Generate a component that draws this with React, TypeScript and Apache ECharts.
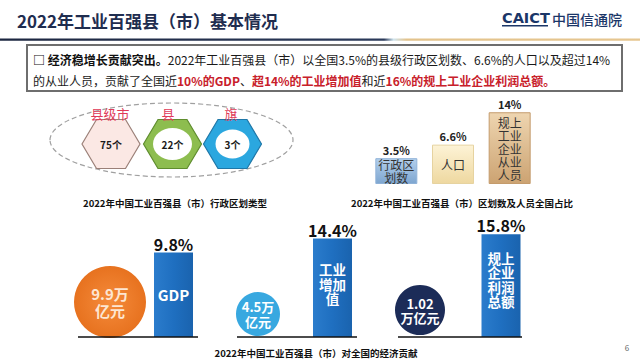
import React, { useEffect, useRef } from 'react';
import * as echarts from 'echarts';

const FONT = '"Noto Sans CJK SC", "Noto Sans", sans-serif';

// ---------- data ----------
const pageTitle = '2022年工业百强县（市）基本情况';
const regionTypes = ['县级市', '县', '旗'];
const regionCounts = [75, 22, 3];
const shareNames = ['行政区\n划数', '人口', '规上\n工业\n企业\n从业\n人员'];
const shareValues = [3.5, 6.6, 14];
const contribNames = ['GDP', '工业\n增加\n值', '规上\n企业\n利润\n总额'];
const contribShares = [9.8, 14.4, 15.8];
const contribAmounts = ['9.9万\n亿元', '4.5万\n亿元', '1.02\n万亿元'];
const captions = [
  '2022年中国工业百强县（市）行政区划类型',
  '2022年中国工业百强县（市）区划数及人员全国占比',
  '2022年中国工业百强县（市）对全国的经济贡献',
];

// ---------- helpers ----------
const vgrad = (a: string, b: string) =>
  new echarts.graphic.LinearGradient(0, 0, 0, 1, [
    { offset: 0, color: a },
    { offset: 1, color: b },
  ]);

function txt(text: string, x: number, y: number, font: string, fill: string, align = 'left', extra: any = {}) {
  return {
    type: 'text',
    x,
    y,
    z: 10,
    style: {
      text,
      font,
      fill,
      textAlign: align,
      textVerticalAlign: 'middle',
      align,
      verticalAlign: 'middle',
      ...extra,
    },
  };
}

function hexPoints(cx: number, cy: number, w = 29, h = 24.5) {
  return [
    [cx - w, cy],
    [cx - w / 2, cy - h],
    [cx + w / 2, cy - h],
    [cx + w, cy],
    [cx + w / 2, cy + h],
    [cx - w / 2, cy + h],
  ];
}

function buildOption() {
  const graphics: any[] = [];

  // header
  graphics.push(txt(pageTitle, 17, 20, `bold 17px ${FONT}`, '#1f2d4f'));
  graphics.push(txt('CAICT', 502, 18, 'bold 14.5px "DejaVu Sans", sans-serif', '#1b3668'));
  graphics.push({ type: 'rect', shape: { x: 502, y: 25, width: 46, height: 1.6 }, style: { fill: '#1b3668' } });
  graphics.push(txt('中国信通院', 552, 19, `500 14px ${FONT}`, '#1b3668'));
  graphics.push({
    type: 'rect',
    shape: { x: 0, y: 38.5, width: 640, height: 2.2 },
    style: {
      fill: new echarts.graphic.LinearGradient(0, 0, 1, 0, [
        { offset: 0, color: '#1c2640' },
        { offset: 0.6, color: '#2b3a5a' },
        { offset: 0.615, color: '#cfe4ee' },
        { offset: 0.635, color: '#e3c38c' },
        { offset: 1, color: '#e6c690' },
      ]),
    },
  });

  // summary box
  graphics.push({
    type: 'rect',
    shape: { x: 27, y: 45, width: 595, height: 46 },
    style: { fill: '#fff', stroke: '#6e6e6e', lineWidth: 2 },
  });
  const rich = {
    b: { font: `bold 12px ${FONT}`, fill: '#111' },
    n: { font: `12px ${FONT}`, fill: '#1a1a1a' },
    r: { font: `bold 12px ${FONT}`, fill: '#c8202a' },
  };
  graphics.push({
    type: 'text',
    x: 33,
    y: 59,
    z: 10,
    style: {
      text: '{b|□ 经济稳增长贡献突出。}{n|2022年工业百强县（市）以全国3.5%的县级行政区划数、6.6%的人口以及超过14%}',
      rich,
      verticalAlign: 'middle',
      textVerticalAlign: 'middle',
    },
  });
  graphics.push({
    type: 'text',
    x: 33,
    y: 80,
    z: 10,
    style: {
      text: '{n|的从业人员，贡献了全国近}{r|10%的GDP}{n|、}{r|超14%的工业增加值}{n|和近}{r|16%的规上工业企业利润总额。}',
      rich,
      verticalAlign: 'middle',
      textVerticalAlign: 'middle',
    },
  });

  // middle-left: region types
  graphics.push({
    type: 'ellipse',
    shape: { cx: 171.5, cy: 140, rx: 121.5, ry: 37 },
    style: { fill: 'none', stroke: '#a0a0a0', lineWidth: 1.2, lineDash: [5, 3] },
  });
  const hexCx = [111, 172.5, 232.5];
  const hexCy = 144;
  const hexFill = ['#fbe8e4', '#8dbd4f', '#2ba7df'];
  const hexStroke = ['#9b8078', '#5f8d2e', '#1f77a8'];
  const inner = [null, { rx: 19.5, ry: 16 }, { rx: 17, ry: 14.5 }];
  regionTypes.forEach((name, i) => {
    graphics.push({
      type: 'polygon',
      shape: { points: hexPoints(hexCx[i], hexCy) },
      style: { fill: hexFill[i], stroke: hexStroke[i], lineWidth: 1.2 },
      z: 5,
    });
    const inn = inner[i];
    if (inn) {
      graphics.push({
        type: 'ellipse',
        shape: { cx: hexCx[i], cy: hexCy, rx: inn.rx, ry: inn.ry },
        style: { fill: '#fff' },
        z: 6,
      });
    }
    graphics.push(txt(`${regionCounts[i]}个`, hexCx[i], hexCy, `bold 10px ${FONT}`, '#1a1a1a', 'center'));
    graphics.push(txt(name, [110, 168, 231][i], 113, `13px ${FONT}`, '#e03a58', 'center'));
  });
  graphics.push(txt(captions[0], 175, 203, `bold 9.5px ${FONT}`, '#111', 'center'));
  graphics.push(txt(captions[1], 462, 203, `bold 9.5px ${FONT}`, '#111', 'center'));
  graphics.push(txt(captions[2], 316, 353, `bold 9.5px ${FONT}`, '#111', 'center'));

  // bottom: amount bubbles and baselines
  const bub = [
    { cx: 110, cy: 302, r: 36, fill: new echarts.graphic.RadialGradient(0.5, 0.5, 0.5, [{ offset: 0, color: '#f58b3b' }, { offset: 1, color: '#e7721f' }]), font: `bold 15px ${FONT}`, color: '#fde6d2', lh: 17 },
    { cx: 258, cy: 314, r: 22, fill: '#38a8e0', font: `bold 13px ${FONT}`, color: '#fff', lh: 15 },
    { cx: 420, cy: 310, r: 25, fill: '#1c2c58', font: `bold 13px ${FONT}`, color: '#fff', lh: 14 },
  ];
  bub.forEach((b, i) => {
    graphics.push({ type: 'circle', shape: { cx: b.cx, cy: b.cy, r: b.r }, style: { fill: b.fill }, z: 5 });
    graphics.push(txt(contribAmounts[i], b.cx, b.cy, b.font, b.color, 'center', { lineHeight: b.lh }));
  });
  const baselines = [
    [78, 198],
    [237, 357],
    [398, 522],
  ];
  baselines.forEach(([a, b]) => {
    graphics.push({ type: 'line', shape: { x1: a, y1: 337, x2: b, y2: 337 }, style: { stroke: '#111', lineWidth: 1.6 }, z: 6 });
  });

  graphics.push(txt('6', 627, 347, `8px ${FONT}`, '#666', 'center'));

  const midColors = [vgrad('#b3cfec', '#7ea6d0'), vgrad('#fdf3d6', '#eed8a0'), vgrad('#eed5b0', '#cca372')];
  const midBorders = ['#8fb2d8', '#e6d3a0', '#c49b6c'];
  const blue = new echarts.graphic.LinearGradient(0, 0, 1, 0, [
    { offset: 0, color: '#2b7ccc' },
    { offset: 0.5, color: '#1f6fc0' },
    { offset: 1, color: '#1a63ae' },
  ]);
  const bottomCenters = [173.5, 332.5, 501];

  const grid: any[] = [{ left: 368, width: 170, top: 86, bottom: 176 }];
  const xAxis: any[] = [{ gridIndex: 0, type: 'category', data: shareNames, show: false }];
  const yAxis: any[] = [{ gridIndex: 0, type: 'value', min: -2.4, max: 20, startValue: -2.4, show: false }];
  const series: any[] = [
    {
      type: 'bar',
      xAxisIndex: 0,
      yAxisIndex: 0,
      barWidth: 42,
      data: shareValues.map((v, i) => ({ value: v, itemStyle: { color: midColors[i], borderColor: midBorders[i], borderWidth: 1 } })),
      label: { show: true, position: 'top', distance: 3, formatter: '{c}%', fontFamily: FONT, fontWeight: 'bold', fontSize: 11, color: '#222' },
    },
    {
      type: 'bar',
      xAxisIndex: 0,
      yAxisIndex: 0,
      barWidth: 42,
      barGap: '-100%',
      silent: true,
      data: shareValues,
      itemStyle: { color: 'rgba(0,0,0,0)' },
      label: { show: true, position: 'inside', formatter: '{b}', fontFamily: FONT, fontSize: 12, lineHeight: 13, color: '#333' },
    },
  ];
  contribShares.forEach((v, i) => {
    const gi = i + 1;
    grid.push({ left: bottomCenters[i] - 25, width: 50, top: 221.5, bottom: 23 });
    xAxis.push({ gridIndex: gi, type: 'category', data: [contribNames[i]], show: false });
    yAxis.push({ gridIndex: gi, type: 'value', min: -18, max: 20, startValue: -18, show: false });
    series.push({
      type: 'bar',
      xAxisIndex: gi,
      yAxisIndex: gi,
      barWidth: 39,
      data: [v],
      itemStyle: { color: blue },
      label: { show: true, position: 'top', distance: 1, formatter: '{c}%', fontFamily: FONT, fontWeight: 'bold', fontSize: 16, color: '#111' },
    });
    series.push({
      type: 'bar',
      xAxisIndex: gi,
      yAxisIndex: gi,
      barWidth: 39,
      barGap: '-100%',
      silent: true,
      data: [v],
      itemStyle: { color: 'rgba(0,0,0,0)' },
      label: {
        show: true,
        position: 'inside',
        offset: [0, [0, -4, -6][i]],
        formatter: '{b}',
        fontFamily: FONT,
        fontWeight: 'bold',
        fontSize: i === 0 ? 15 : 13.5,
        lineHeight: 14.5,
        color: '#fff',
      },
    });
  });

  return {
    animation: false,
    backgroundColor: '#fff',
    grid,
    xAxis,
    yAxis,
    series,
    graphic: { elements: graphics },
  };
}

export default function App() {
  const ref = useRef<HTMLDivElement>(null);
  useEffect(() => {
    const chart = echarts.init(ref.current as HTMLDivElement, null, { renderer: 'svg' });
    chart.setOption(buildOption() as any);
    return () => chart.dispose();
  }, []);
  return (
    <div
      ref={ref}
      style={{ position: 'fixed', left: 0, top: 0, width: 640, height: 360, background: '#fff' }}
    />
  );
}
